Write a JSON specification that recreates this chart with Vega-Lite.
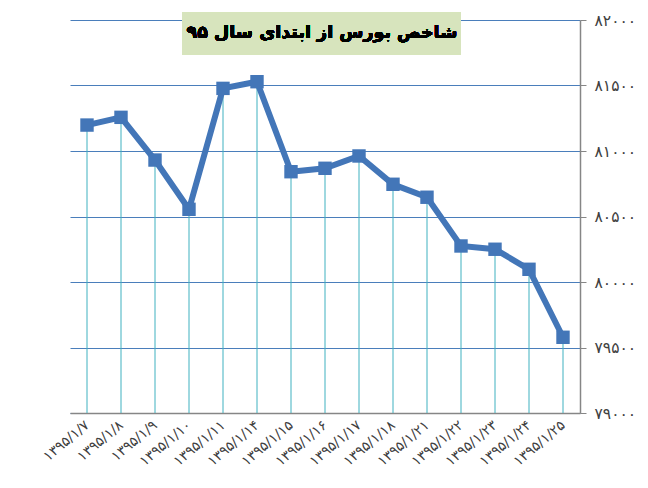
{
  "$schema": "https://vega.github.io/schema/vega-lite/v6.json",
  "width": 510,
  "height": 393,
  "autosize": {"type": "none"},
  "padding": {"left": 70, "top": 20, "right": 68, "bottom": 75},
  "background": "white",
  "config": {"view": {"stroke": null}, "font": "DejaVu Sans"},
  "data": {
    "values": [
      {"date": "۱۳۹۵/۱/۷", "value": 81198},
      {"date": "۱۳۹۵/۱/۸", "value": 81257},
      {"date": "۱۳۹۵/۱/۹", "value": 80931},
      {"date": "۱۳۹۵/۱/۱۰", "value": 80555},
      {"date": "۱۳۹۵/۱/۱۱", "value": 81478},
      {"date": "۱۳۹۵/۱/۱۴", "value": 81529},
      {"date": "۱۳۹۵/۱/۱۵", "value": 80842},
      {"date": "۱۳۹۵/۱/۱۶", "value": 80868},
      {"date": "۱۳۹۵/۱/۱۷", "value": 80962},
      {"date": "۱۳۹۵/۱/۱۸", "value": 80746},
      {"date": "۱۳۹۵/۱/۲۱", "value": 80647},
      {"date": "۱۳۹۵/۱/۲۲", "value": 80275},
      {"date": "۱۳۹۵/۱/۲۳", "value": 80250},
      {"date": "۱۳۹۵/۱/۲۴", "value": 80097},
      {"date": "۱۳۹۵/۱/۲۵", "value": 79578}
    ]
  },
  "layer": [
    {
      "mark": {"type": "rule", "color": "#3fb1c0", "strokeWidth": 1},
      "encoding": {
        "x": {
          "field": "date", "type": "ordinal", "sort": null,
          "scale": {"type": "point", "padding": 0.5},
          "axis": {
            "title": null, "labelAngle": -40, "labelAlign": "right", "labelBaseline": "middle",
            "labelFontSize": 14, "labelColor": "#404040", "ticks": false, "labelPadding": 10,
            "domainColor": "#868686", "domainWidth": 1.5, "labelFont": "DejaVu Sans"
          }
        },
        "y": {
          "field": "value", "type": "quantitative",
          "scale": {"domain": [79000, 82000], "zero": false, "nice": false},
          "axis": {
            "orient": "right", "title": null, "values": [79000, 79500, 80000, 80500, 81000, 81500, 82000],
            "labelExpr": "datum.value == 82000 ? '۸۲۰۰۰' : datum.value == 81500 ? '۸۱۵۰۰' : datum.value == 81000 ? '۸۱۰۰۰' : datum.value == 80500 ? '۸۰۵۰۰' : datum.value == 80000 ? '۸۰۰۰۰' : datum.value == 79500 ? '۷۹۵۰۰' : '۷۹۰۰۰'",
            "grid": true, "gridColor": "#4a7ebb", "gridWidth": 1,
            "domainColor": "#868686", "domainWidth": 1.5, "tickColor": "#868686", "tickSize": 6,
            "labelFontSize": 15.5, "labelColor": "#404040", "labelPadding": 8, "labelFont": "DejaVu Sans"
          }
        },
        "y2": {"datum": 79000}
      }
    },
    {
      "mark": {"type": "rect", "color": "#d7e4bd", "xOffset": -7},
      "encoding": {
        "x": {"datum": "۱۳۹۵/۱/۱۰", "type": "ordinal"},
        "x2": {"datum": "۱۳۹۵/۱/۲۲"},
        "y": {"datum": 82060, "type": "quantitative"},
        "y2": {"datum": 81735}
      }
    },
    {
      "mark": {"type": "text", "text": "شاخص بورس از ابتدای سال ۹۵", "fontSize": 17.5, "fontWeight": "bold", "color": "black", "align": "center", "baseline": "middle", "dx": -3, "font": "DejaVu Sans"},
      "encoding": {
        "x": {"datum": "۱۳۹۵/۱/۱۶", "type": "ordinal"},
        "y": {"datum": 81898, "type": "quantitative"}
      }
    },
    {
      "mark": {"type": "line", "color": "#4376b8", "strokeWidth": 6, "strokeJoin": "miter"},
      "encoding": {
        "x": {"field": "date", "type": "ordinal", "sort": null},
        "y": {"field": "value", "type": "quantitative"}
      }
    },
    {
      "mark": {"type": "point", "shape": "square", "filled": true, "size": 180, "color": "#4376b8", "opacity": 1},
      "encoding": {
        "x": {"field": "date", "type": "ordinal", "sort": null},
        "y": {"field": "value", "type": "quantitative"}
      }
    }
  ]
}
